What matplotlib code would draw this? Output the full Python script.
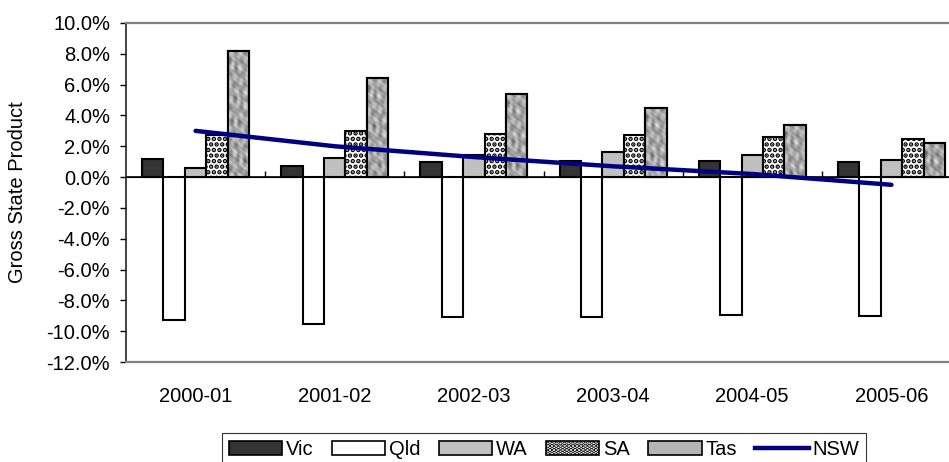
#!/usr/bin/env python3

'''
plot.py
  Grouped bar chart of Gross State Product growth by state,
  with the NSW series drawn as a line over the bars.
'''

import numpy as np
import matplotlib
matplotlib.use('Agg')
from matplotlib import pyplot as plt
from matplotlib.patches import Patch
from matplotlib.lines import Line2D


#
#   Data (percent)
#
years = ['2000-01', '2001-02', '2002-03', '2003-04', '2004-05', '2005-06']
vic = [1.2, 0.75, 0.95, 1.05, 1.05, 1.0]
qld = [-9.3, -9.55, -9.1, -9.05, -8.95, -9.0]
wa = [0.6, 1.25, 1.45, 1.6, 1.45, 1.1]
sa = [2.7, 3.0, 2.8, 2.7, 2.6, 2.5]
tas = [8.2, 6.4, 5.4, 4.5, 3.4, 2.2]
nsw = [3.0, 2.0, 1.3, 0.7, 0.2, -0.5]


def mottled(h, w):
    '''Deterministic grey "granite" texture, about one texel per pixel.'''
    yy, xx = np.mgrid[0:h, 0:w].astype(float)
    t = (np.sin(0.62 * xx + 0.3) * np.sin(0.41 * yy + 0.7)
         + 0.8 * np.sin(0.35 * xx + 0.29 * yy + 1.9)
         * np.sin(0.23 * yy - 0.47 * xx)
         + 0.6 * np.sin(0.9 * xx - 0.7 * yy + 0.2) * np.sin(0.55 * yy + 1.1)
         + 0.4 * np.sin(0.17 * yy + 2.4) * np.sin(1.1 * xx))
    t = (t - t.min()) / (t.max() - t.min())
    return 0.40 + 0.48 * t


FS = 14.5
plt.rcParams['font.family'] = ['Liberation Sans', 'DejaVu Sans']
plt.rcParams['hatch.linewidth'] = 2.3

fig = plt.figure(figsize=(9.49, 4.62), dpi=100)
ax = fig.add_axes([126 / 949, 100 / 462, 835 / 949, 339 / 462])

x = np.arange(len(years))
w = 0.154
edge = dict(edgecolor='black', linewidth=1.5)

ax.bar(x - 2 * w, vic, w, color='#333333', zorder=2, **edge)
ax.bar(x - 1 * w, qld, w, color='white', zorder=2, **edge)
ax.bar(x, wa, w, color='#C0C0C0', zorder=2, **edge)
ax.bar(x + 1 * w, sa, w, color='white', hatch='...', zorder=2, **edge)
tas_bars = ax.bar(x + 2 * w, tas, w, color='#A8A8A8', zorder=2, **edge)

# Fill each Tas bar with the mottled texture, clipped to the bar
px_per_pct = 339 / 22
for b in tas_bars:
    x0, y0 = b.get_x(), b.get_y()
    rows = max(int(abs(b.get_height()) * px_per_pct), 4)
    im = ax.imshow(mottled(rows, 22), cmap='gray', vmin=0, vmax=1,
                   aspect='auto', interpolation='bilinear', zorder=2.1,
                   extent=(x0, x0 + b.get_width(), y0, y0 + b.get_height()))
    im.set_clip_path(b)
    ax.bar(x0 + b.get_width() / 2, b.get_height(), w, bottom=y0,
           facecolor='none', zorder=2.2, **edge)

ax.plot(x, nsw, color='#000080', linewidth=3.2, solid_capstyle='round',
        zorder=3)

# Axes limits and ticks
ticks = np.arange(-12, 10.1, 2)
ax.set_xlim(-0.5, len(years) - 0.5)
ax.set_ylim(-12, 10)
ax.set_yticks(ticks)
ax.set_yticklabels(['{:.1f}%'.format(v) for v in ticks])
ax.set_xticks(x)
ax.set_xticklabels(years)
ax.tick_params(axis='x', length=0, pad=18, labelsize=FS)
ax.tick_params(axis='y', direction='out', length=4.5, width=1, pad=7,
               labelsize=FS, colors='black')
fig.text(18 / 949, 1 - 192 / 462, 'Gross State Product', rotation=90,
         ha='center', va='center', fontsize=FS)

for side in ['top', 'right', 'bottom']:
    ax.spines[side].set_color('#808080')
    ax.spines[side].set_linewidth(1.6)
ax.spines['left'].set_color('#222222')
ax.spines['left'].set_linewidth(1.2)

# Category axis crossing at 0% with ticks between the groups
sec = ax.secondary_xaxis(12 / 22)
sec.set_xticks(np.arange(0.5, len(years) - 0.5, 1.0))
sec.tick_params(axis='x', direction='out', length=4.5, width=1,
                labelbottom=False, labeltop=False)
sec.spines['bottom'].set_linewidth(1.2)
sec.spines['bottom'].set_color('black')
ax.axhline(0, color='black', linewidth=1.2, zorder=1.9)

# Legend below the plot
handles = [
    Patch(facecolor='#333333', edgecolor='black', linewidth=1.2),
    Patch(facecolor='white', edgecolor='black', linewidth=1.2),
    Patch(facecolor='#C0C0C0', edgecolor='black', linewidth=1.2),
    Patch(facecolor='white', edgecolor='black', hatch='....', linewidth=1.2),
    Patch(facecolor='#B4B4B4', edgecolor='black', linewidth=1.2),
    Line2D([0], [0], color='#000080', linewidth=3.2),
]
labels = ['Vic', 'Qld', 'WA', 'SA', 'Tas', 'NSW']
leg = fig.legend(handles, labels, loc='upper center', ncol=6,
                 bbox_to_anchor=(544 / 949, 1 - 433 / 462),
                 fontsize=FS, frameon=True, fancybox=False,
                 edgecolor='black', handlelength=2.65, handleheight=0.65,
                 handletextpad=0.2, columnspacing=0.9, borderpad=0.35,
                 borderaxespad=0)
leg.get_frame().set_linewidth(0.8)

fig.savefig('out.png', dpi=100)
plt.close(fig)
